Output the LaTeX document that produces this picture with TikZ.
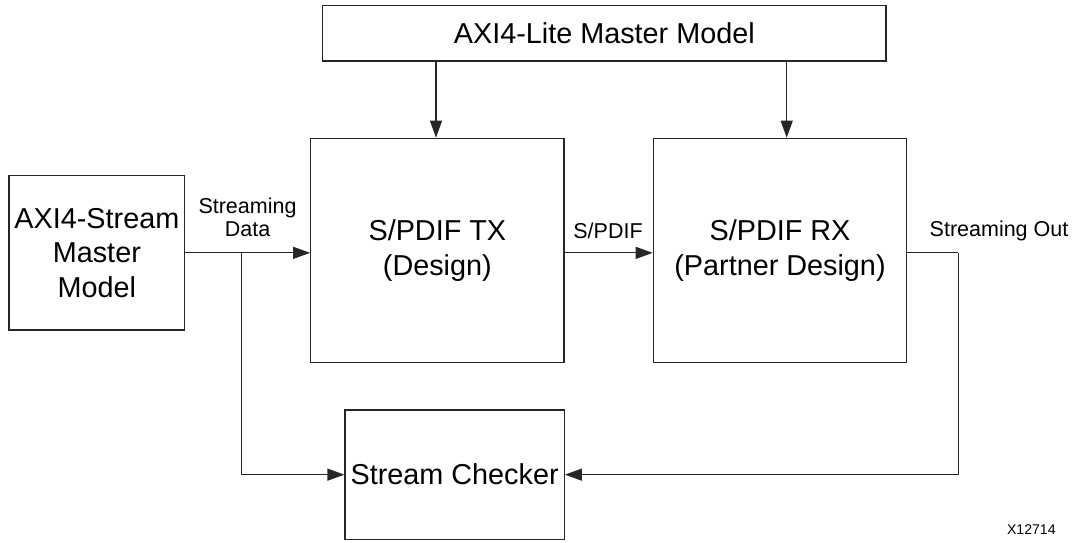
\documentclass[tikz,border=0pt]{standalone}
\usepackage{fontspec}
\setmainfont{Liberation Sans}
\usetikzlibrary{arrows.meta}
\begin{document}
\begin{tikzpicture}[x=1pt,y=-1pt,
  blk/.style={draw=black!85, line width=1.2pt, inner sep=0pt, align=center, font=\fontsize{28.8}{34.5}\selectfont},
  lbl/.style={inner sep=0pt, align=center, font=\fontsize{21.5}{23.4}\selectfont},
  conn/.style={draw=black!85, line width=1.2pt, -{Triangle[length=17pt,width=12pt]}},
  wire/.style={draw=black!85, line width=1.2pt}]
\useasboundingbox (0,0) rectangle (1073,542);
\node[blk, minimum width=563.3pt, minimum height=55.7pt] (lite) at (604.35,33.15) {AXI4-Lite Master Model};
\node[blk, minimum width=175.7pt, minimum height=154.3pt] (stream) at (96.85,252.85) {AXI4-Stream\\Master\\Model};
\node[blk, minimum width=253.3pt, minimum height=224.4pt] (tx) at (437.35,250.5) {S/PDIF TX\\(Design)};
\node[blk, minimum width=253.4pt, minimum height=224.4pt] (rx) at (780,250.5) {S/PDIF RX\\(Partner Design)};
\node[blk, minimum width=219.3pt, minimum height=129.3pt] (chk) at (454.65,474.65) {Stream Checker};
\coordinate (br) at (241.7,252.85);
\coordinate (so) at (958.3,252.85);
\draw[conn] ([xshift=-1.35pt]tx.north |- lite.south) -- ([xshift=-1.35pt]tx.north);
\draw[conn] ([xshift=6.7pt]rx.north |- lite.south) -- ([xshift=6.7pt]rx.north);
\draw[conn] (stream.east) -- (stream.east -| tx.west);
\draw[conn] (tx.east |- stream.east) -- (rx.west |- stream.east);
\draw[conn] (br) -- (br |- chk.west) -- (chk.west);
\draw[wire] (rx.east |- stream.east) -- (so);
\draw[conn] (so) -- (so |- chk.east) -- (chk.east);
\node[lbl, anchor=base] (sd) at (247.5,236.7) {Streaming\\Data};
\node[lbl, anchor=base] (sp) at (608,238.3) {S/PDIF};
\node[lbl, anchor=base] (sout) at (999,236.7) {Streaming Out};
\node[inner sep=0pt, anchor=base, font=\fontsize{14.1}{16}\selectfont] (fig) at (1031.3,534) {X12714};
\end{tikzpicture}
\end{document}
